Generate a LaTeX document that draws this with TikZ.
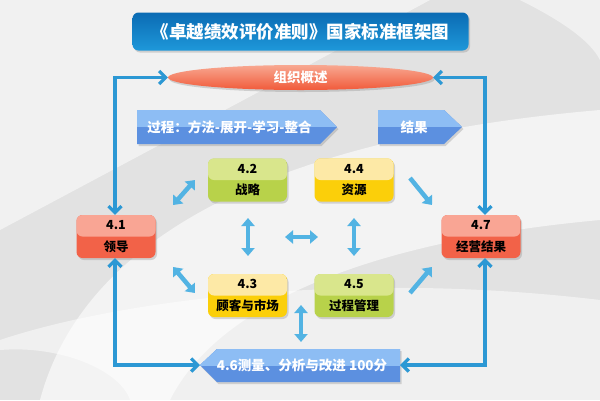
\documentclass[tikz,border=0pt]{standalone}
\usepackage{fontspec}
\setmainfont{Noto Sans CJK SC}
\usetikzlibrary{arrows.meta,shapes.geometric,shadows,calc}
\definecolor{bgc}{HTML}{E2E2E2}
\definecolor{titletop}{HTML}{0B6BB3}
\definecolor{titlebot}{HTML}{1E98DA}
\definecolor{ovtop}{HTML}{F8A891}
\definecolor{ovbot}{HTML}{F15A3A}
\definecolor{redt}{HTML}{F9A594}
\definecolor{redb}{HTML}{F26248}
\definecolor{grnt}{HTML}{D9E68C}
\definecolor{grnb}{HTML}{B8D24A}
\definecolor{ylwt}{HTML}{FDE9A6}
\definecolor{ylwb}{HTML}{FBCF0A}
\definecolor{blt}{HTML}{8DBDF4}
\definecolor{blb}{HTML}{5C90E0}
\definecolor{lineb}{HTML}{2C98D4}
\definecolor{arrlb}{HTML}{52B3E3}
\tikzset{
  twotone/.style 2 args={fill=#2, path picture={\fill[#1] (path picture bounding box.north west) rectangle (path picture bounding box.east);}},
  shad/.style={drop shadow={opacity=0.3, shadow xshift=1.5pt, shadow yshift=-2pt}},
  box/.style={rounded corners=6pt, minimum width=79pt, minimum height=43pt, inner sep=0pt, align=center,
    font=\fontsize{12.5}{21.5}\selectfont\bfseries, text=black, shad},
  redbox/.style={box, twotone={redt}{redb}},
  grnbox/.style={box, twotone={grnt}{grnb}},
  ylwbox/.style={box, twotone={ylwt}{ylwb}},
  ptext/.style={text=white, font=\fontsize{13.5}{15}\selectfont\bfseries, inner sep=0pt},
  conn/.style={draw=lineb, line width=3.2pt, {Straight Barb[length=6.5pt,width=13pt]}-{Straight Barb[length=6.5pt,width=13pt]}},
  iarr/.style={draw=arrlb, line width=4.5pt, -{Triangle[length=8pt,width=13pt]}},
  iarrd/.style={draw=arrlb, line width=4.5pt, {Triangle[length=8pt,width=13pt]}-{Triangle[length=8pt,width=13pt]}},
}
\begin{document}
\begin{tikzpicture}[x=1pt,y=-1pt]
\useasboundingbox (0,0) rectangle (600,400);
% background
\fill[bgc] (0,0) rectangle (600,400);
\fill[white, opacity=0.55] (0,0) -- (430,0) .. controls (300,70) and (150,150) .. (0,230) -- cycle;
\fill[white, opacity=0.6] (40,400) .. controls (80,250) and (250,140) .. (600,110) -- (600,220) .. controls (380,240) and (220,300) .. (170,400) -- cycle;
\fill[white, opacity=0.5] (0,340) .. controls (120,300) and (350,270) .. (600,300) -- (600,400) -- (130,400) .. controls (120,370) and (60,345) .. (0,350) -- cycle;
\fill[white, opacity=0.5] (520,0) .. controls (560,20) and (590,40) .. (600,60) -- (600,0) -- cycle;
% title
\node[rounded corners=6pt, minimum width=336pt, minimum height=38pt, inner sep=0pt,
  top color=titletop, bottom color=titlebot, text=white,
  font=\fontsize{17.5}{20}\selectfont\bfseries, shad] (title) at (300.5,31.5) {《卓越绩效评价准则》国家标准框架图};
% organisation overview
\node[ellipse, minimum width=265pt, minimum height=25pt, inner sep=0pt,
  top color=ovtop, bottom color=ovbot, text=white,
  font=\fontsize{13.5}{15}\selectfont\bfseries, shad] (ov) at (300.5,77.5) {组织概述};
% process arrows
\path[twotone={blt}{blb}, shad] (137,110) -- (320,110) -- (337,127) -- (320,144) -- (137,144) -- cycle;
\node[ptext] (proc) at (229.5,127) {过程：方法-展开-学习-整合};
\path[twotone={blt}{blb}, shad] (378,110) -- (444,110) -- (462,127) -- (444,144) -- (378,144) -- cycle;
\node[ptext] (res) at (414,127) {结果};
% boxes
\node[redbox] (l41) at (116,236.5) {4.1\\领导};
\node[grnbox] (l42) at (247.5,180) {4.2\\战略};
\node[ylwbox] (l44) at (354,180) {4.4\\资源};
\node[ylwbox] (l43) at (247.5,295.5) {4.3\\顾客与市场};
\node[grnbox] (l45) at (354,295.5) {4.5\\过程管理};
\node[redbox] (l47) at (481,236.5) {4.7\\经营结果};
% 4.6
\path[twotone={blt}{blb}, shad] (200,365) -- (217,349) -- (400,349) -- (400,382) -- (217,382) -- cycle;
\node[ptext] (l46) at (302,365.5) {4.6测量、分析与改进 100分};
\coordinate (m46w) at (200,365);
\coordinate (m46e) at (400,365);
% outer connectors
\coordinate (ctl) at (115,77.5);
\coordinate (ctr) at (485,77.5);
\coordinate (cbl) at (115,365);
\coordinate (cbr) at (485,365);
\draw[conn] (ov.west) -- (ctl) -- (ctl |- l41.north);
\draw[conn] (cbl |- l41.south) -- (cbl) -- (m46w);
\draw[conn] (ov.east) -- (ctr) -- (ctr |- l47.north);
\draw[conn] (cbr |- l47.south) -- (cbr) -- (m46e);
% inner arrows
\coordinate (a12s) at (173,205); \coordinate (a12e) at (195,180);
\coordinate (a13s) at (173,267); \coordinate (a13e) at (195,293);
\coordinate (a47s) at (410,178); \coordinate (a47e) at (432,205);
\coordinate (a57s) at (410,293); \coordinate (a57e) at (432,267);
\coordinate (v23s) at (248,218); \coordinate (v23e) at (248,256);
\coordinate (v45s) at (354,218); \coordinate (v45e) at (354,256);
\coordinate (hms) at (285,237); \coordinate (hme) at (318,237);
\coordinate (v36s) at (301,305); \coordinate (v36e) at (301,342);
\draw[iarrd] (a12s) -- (a12e);
\draw[iarrd] (a13s) -- (a13e);
\draw[iarr] (a47s) -- (a47e);
\draw[iarr] (a57s) -- (a57e);
\draw[iarrd] (v23s) -- (v23e);
\draw[iarrd] (v45s) -- (v45e);
\draw[iarrd] (hms) -- (hme);
\draw[iarrd] (v36s) -- (v36e);
\end{tikzpicture}
\end{document}
